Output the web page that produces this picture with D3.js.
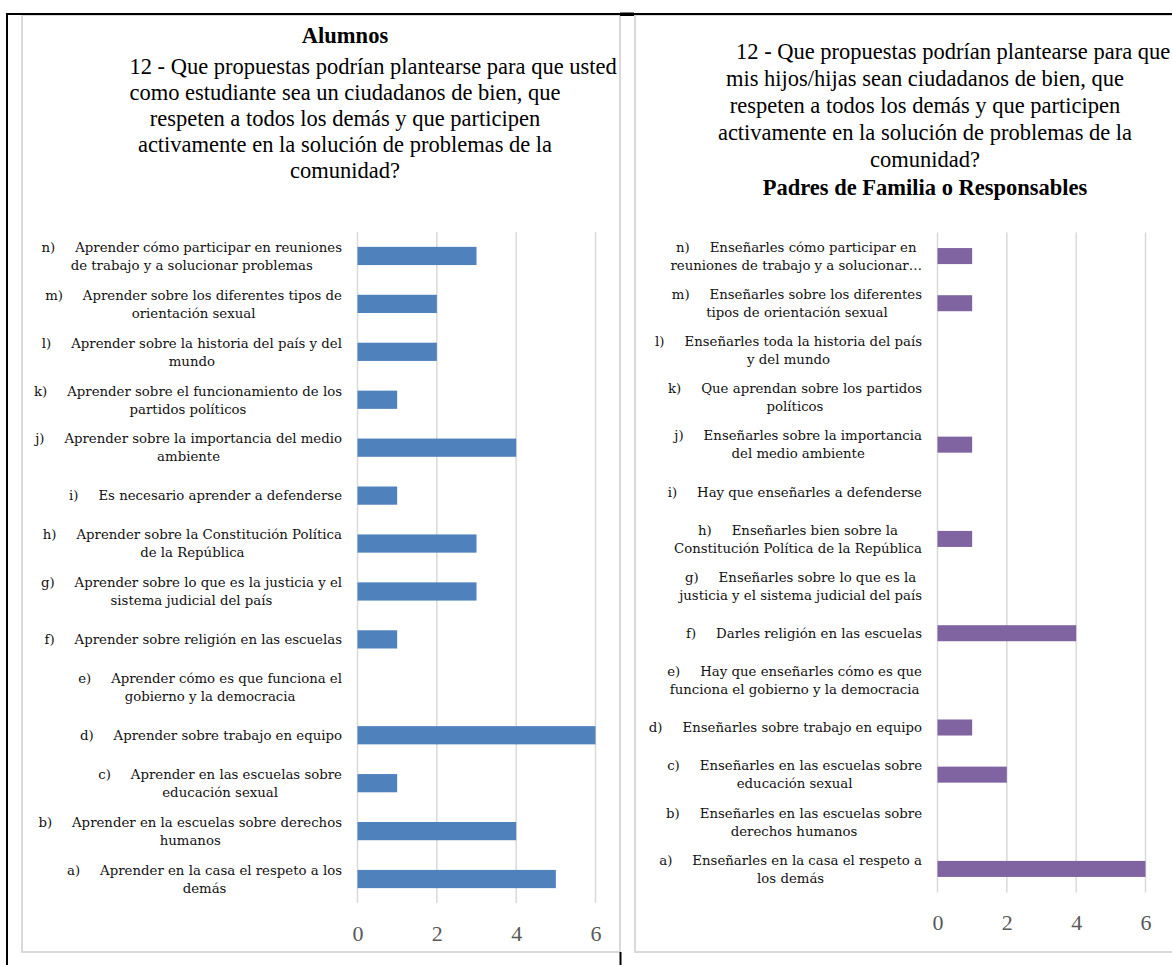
<!DOCTYPE html>
<html>
<head>
<meta charset="utf-8">
<script src="https://cdn.jsdelivr.net/npm/d3@7"></script>
<style>
  html, body { margin: 0; padding: 0; background: #fff; }
  svg { display: block; }
  .lbl { font-family: "DejaVu Serif", serif; font-size: 13.3px; fill: #111; white-space: pre; }
  .tick { font-family: "Liberation Serif", serif; font-size: 22px; fill: #595959; }
  .title { font-family: "Liberation Serif", "Times New Roman", serif; font-size: 22.5px; fill: #000; white-space: pre; }
</style>
</head>
<body>
<svg id="c" width="1172" height="965"></svg>
<script>
// ---------- data ----------
const alumnosLabels = [
  "a)\tAprender en la casa el respeto a los\ndemás",
  "b)\tAprender en la escuelas sobre derechos\nhumanos",
  "c)\tAprender en las escuelas sobre\neducación sexual",
  "d)\tAprender sobre trabajo en equipo",
  "e)\tAprender cómo es que funciona el\ngobierno y la democracia",
  "f)\tAprender sobre religión en las escuelas",
  "g)\tAprender sobre lo que es la justicia y el\nsistema judicial del país",
  "h)\tAprender sobre la Constitución Política\nde la República",
  "i)\tEs necesario aprender a defenderse",
  "j)\tAprender sobre la importancia del medio\nambiente",
  "k)\tAprender sobre el funcionamiento de los\npartidos políticos",
  "l)\tAprender sobre la historia del país y del\nmundo",
  "m)\tAprender sobre los diferentes tipos de\norientación sexual",
  "n)\tAprender cómo participar en reuniones\nde trabajo y a solucionar problemas"
];
const alumnosValues = [5, 4, 1, 6, 0, 1, 3, 3, 1, 4, 1, 2, 2, 3];

const padresLabels = [
  "a)\tEnseñarles en la casa el respeto a\nlos demás",
  "b)\tEnseñarles en las escuelas sobre\nderechos humanos",
  "c)\tEnseñarles en las escuelas sobre\neducación sexual",
  "d)\tEnseñarles sobre trabajo en equipo",
  "e)\tHay que enseñarles cómo es que\nfunciona el gobierno y la democracia",
  "f)\tDarles religión en las escuelas",
  "g)\tEnseñarles sobre lo que es la\njusticia y el sistema judicial del país",
  "h)\tEnseñarles bien sobre la\nConstitución Política de la República",
  "i)\tHay que enseñarles a defenderse",
  "j)\tEnseñarles sobre la importancia\ndel medio ambiente",
  "k)\tQue aprendan sobre los partidos\npolíticos",
  "l)\tEnseñarles toda la historia del país\ny del mundo",
  "m)\tEnseñarles sobre los diferentes\ntipos de orientación sexual",
  "n)\tEnseñarles cómo participar en\nreuniones de trabajo y a solucionar…"
];
const padresValues = [6, 0, 2, 1, 0, 4, 0, 1, 0, 1, 0, 0, 1, 1];

const tickValues = [0, 2, 4, 6];

const alumnosHeading = "Alumnos";
const alumnosTitle = ["          12 - Que propuestas podrían plantearse para que usted",
  "como estudiante sea un ciudadanos de bien, que",
  "respeten a todos los demás y que participen",
  "activamente en la solución de problemas de la",
  "comunidad?"];
const padresTitle = ["          12 - Que propuestas podrían plantearse para que",
  "mis hijos/hijas sean ciudadanos de bien, que",
  "respeten a todos los demás y que participen",
  "activamente en la solución de problemas de la",
  "comunidad?"];
const padresHeading = "Padres de Familia o Responsables";

// ---------- drawing ----------
const svg = d3.select("#c");

// panels
svg.append("rect").attr("x", 22).attr("y", 15).attr("width", 598).attr("height", 937)
  .attr("fill", "#fff").attr("stroke", "#d9d9d9").attr("stroke-width", 2);
svg.append("rect").attr("x", 635).attr("y", 15).attr("width", 600).attr("height", 937)
  .attr("fill", "#fff").attr("stroke", "#d9d9d9").attr("stroke-width", 2);

// black page lines
svg.append("line").attr("x1", 6).attr("x2", 1172).attr("y1", 14).attr("y2", 14)
  .attr("stroke", "#000").attr("stroke-width", 2);
svg.append("line").attr("x1", 7).attr("x2", 7).attr("y1", 13).attr("y2", 965)
  .attr("stroke", "#000").attr("stroke-width", 2);
svg.append("rect").attr("x", 620).attr("y", 12.5).attr("width", 14).attr("height", 3.5).attr("fill", "#000");
svg.append("line").attr("x1", 620.5).attr("x2", 620.5).attr("y1", 952).attr("y2", 965)
  .attr("stroke", "#000").attr("stroke-width", 2);

function drawChart(cfg) {
  const g = svg.append("g");
  const order = cfg.labels.map((d, i) => i).reverse(); // n at top
  const y = d3.scaleBand().domain(order).range([cfg.top, cfg.bottom])
    .paddingInner(cfg.pad).paddingOuter(cfg.pad / 2);
  const x = d3.scaleLinear().domain([0, 6]).range([cfg.x0, cfg.x1]);

  // gridlines
  g.append("g").selectAll("line").data(tickValues).join("line")
    .attr("x1", d => x(d)).attr("x2", d => x(d))
    .attr("y1", cfg.top).attr("y2", cfg.bottom)
    .attr("stroke", "#d9d9d9").attr("stroke-width", 1.5);

  // bars
  g.append("g").selectAll("rect").data(order.filter(i => cfg.values[i] > 0)).join("rect")
    .attr("x", x(0)).attr("y", i => y(i))
    .attr("width", i => x(cfg.values[i]) - x(0)).attr("height", y.bandwidth())
    .attr("fill", cfg.color);

  // tick labels
  const xAxis = d3.axisBottom(x).tickValues(tickValues).tickFormat(d3.format("d"))
    .tickSize(0).tickPadding(0);
  const ax = g.append("g").attr("transform", `translate(0,${cfg.tickY})`).call(xAxis);
  ax.select(".domain").remove();
  ax.attr("font-family", null).attr("font-size", null);
  ax.selectAll("text").attr("class", "tick").attr("dy", null).attr("fill", null);

  // category labels (wrapped, centred block, right aligned to axis)
  const lh = 18;
  order.forEach(i => {
    const lines = cfg.labels[i].split("\n").map(s => s.replace("\t", "\u2003\u2002"));
    const cy = y(i) + y.bandwidth() / 2;
    const texts = lines.map((ln, k) => g.append("text").attr("class", "lbl")
      .attr("y", cy + (k - (lines.length - 1) / 2) * lh + 4.8)
      .attr("text-anchor", "middle").text(ln));
    const w = d3.max(texts, t => t.node().getComputedTextLength());
    texts.forEach(t => t.attr("x", cfg.labelRight - w / 2));
  });

  // titles
  cfg.titleLines.forEach((t, k) => {
    g.append("text").attr("class", "title").attr("x", cfg.titleX).attr("y", cfg.titleYs[k])
      .attr("text-anchor", "middle").attr("font-weight", t.bold ? "bold" : null).text(t.text);
  });
}

drawChart({
  labels: alumnosLabels, values: alumnosValues, color: "#4f81bd",
  top: 232, bottom: 903, pad: 0.62, x0: 357.5, x1: 595.5,
  tickY: 941, labelRight: 342,
  titleX: 345, titleYs: [43, 74, 100, 126, 152, 178],
  titleLines: [{ text: alumnosHeading, bold: true }].concat(alumnosTitle.map(t => ({ text: t })))
});

drawChart({
  labels: padresLabels, values: padresValues, color: "#8064a2",
  top: 232.5, bottom: 892.5, pad: 0.66, x0: 937.5, x1: 1145.5,
  tickY: 930, labelRight: 922,
  titleX: 925, titleYs: [59, 86, 113, 140, 167, 195],
  titleLines: padresTitle.map(t => ({ text: t })).concat([{ text: padresHeading, bold: true }])
});
</script>
</body>
</html>
